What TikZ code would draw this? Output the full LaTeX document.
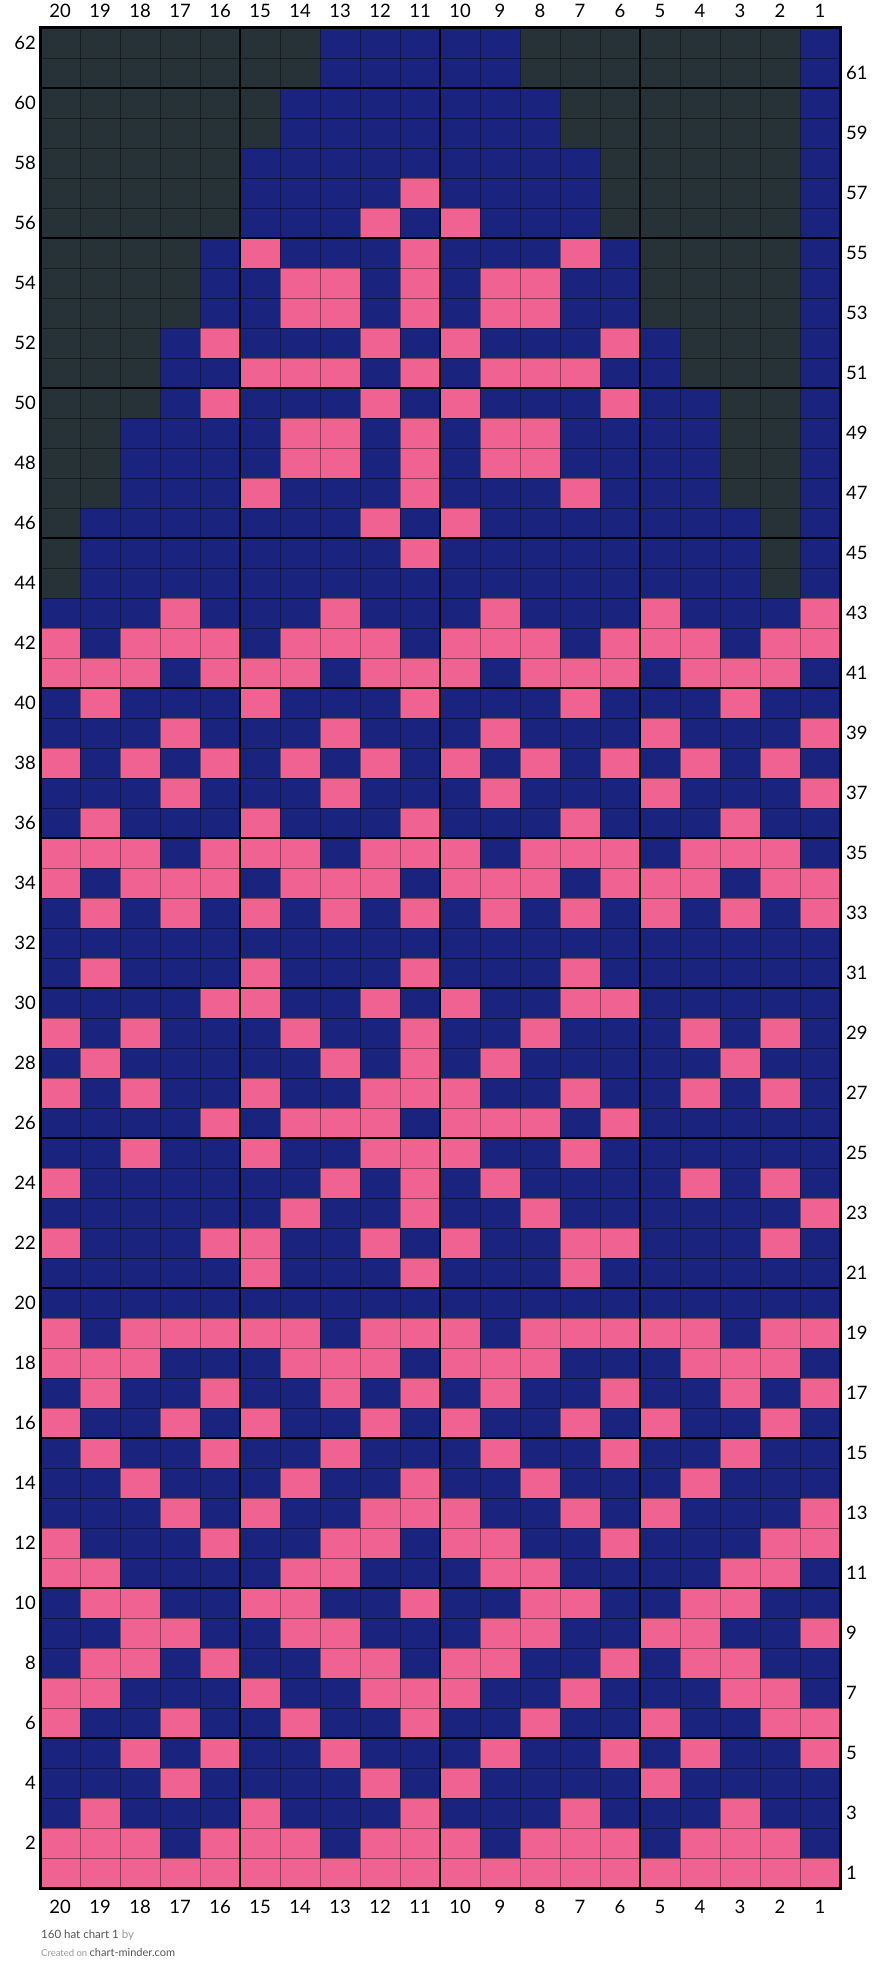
\documentclass[tikz,border=0pt]{standalone}
\usepackage{fontspec}
\setmainfont{Lato}
\setsansfont{Lato}
\usepackage{tikz}
\definecolor{hatblue}{HTML}{1A237E}
\definecolor{hatpink}{HTML}{F06292}
\definecolor{hatnone}{HTML}{263238}
\definecolor{hatgrey}{HTML}{555555}
\definecolor{hatlight}{HTML}{999999}

\begin{document}
\begin{tikzpicture}[x=1pt,y=-1pt,font=\sffamily]
  \tikzstyle{thin}=[black, opacity=0.4, line width=0.9pt]
  \tikzstyle{major}=[black, line width=2pt]
  \tikzstyle{num}=[font=\fontsize{18.5}{20}\selectfont\sffamily, inner sep=0pt, text=black]
  \tikzstyle{foot}=[inner sep=0pt, anchor=base west]
  \useasboundingbox (0,0) rectangle (880,1983);

  % main colour
  \fill[hatblue] (40,28) rectangle (840,1888);

  % no stitch: row / last col of left block / first col of right block
  \foreach \r/\lft/\rgt in {62/14/8,61/14/8,60/15/7,59/15/7,58/16/6,57/16/6,56/16/6,
    55/17/5,54/17/5,53/17/5,52/18/4,51/18/4,50/18/3,49/19/3,48/19/3,47/19/3,
    46/20/2,45/20/2,44/20/2} {
    \fill[hatnone] (40,{28+(62-\r)*30}) rectangle ({40+(21-\lft)*40},{58+(62-\r)*30});
    \fill[hatnone] ({40+(20-\rgt)*40},{28+(62-\r)*30}) rectangle (800,{58+(62-\r)*30});
  }

  % contrast stitches
  \foreach \r/\cols in {
    57/{11},
    56/{12,10},
    55/{15,11,7},
    54/{14,13,11,9,8},
    53/{14,13,11,9,8},
    52/{16,12,10,6},
    51/{15,14,13,11,9,8,7},
    50/{16,12,10,6},
    49/{14,13,11,9,8},
    48/{14,13,11,9,8},
    47/{15,11,7},
    46/{12,10},
    45/{11},
    43/{17,13,9,5,1},
    42/{20,18,17,16,14,13,12,10,9,8,6,5,4,2,1},
    41/{20,19,18,16,15,14,12,11,10,8,7,6,4,3,2},
    40/{19,15,11,7,3},
    39/{17,13,9,5,1},
    38/{20,18,16,14,12,10,8,6,4,2},
    37/{17,13,9,5,1},
    36/{19,15,11,7,3},
    35/{20,19,18,16,15,14,12,11,10,8,7,6,4,3,2},
    34/{20,18,17,16,14,13,12,10,9,8,6,5,4,2,1},
    33/{19,17,15,13,11,9,7,5,3,1},
    31/{19,15,11,7},
    30/{16,15,12,10,7,6},
    29/{20,18,14,11,8,4,2},
    28/{19,13,11,9,3},
    27/{20,18,15,12,11,10,7,4,2},
    26/{16,14,13,12,10,9,8,6},
    25/{18,15,12,11,10,7},
    24/{20,13,11,9,4,2},
    23/{14,11,8,1},
    22/{20,16,15,12,10,7,6,2},
    21/{15,11,7},
    19/{20,18,17,16,15,14,12,11,10,8,7,6,5,4,2,1},
    18/{20,19,18,14,13,12,10,9,8,4,3,2},
    17/{19,16,13,11,9,6,3,1},
    16/{20,17,15,12,10,7,5,2},
    15/{19,16,13,9,6,3},
    14/{18,14,11,8,4},
    13/{17,15,12,11,10,7,5,1},
    12/{20,16,13,12,10,9,6,2,1},
    11/{20,19,14,13,9,8,3,2},
    10/{19,18,15,14,11,8,7,4,3},
    9/{18,17,14,13,9,8,5,4,1},
    8/{19,18,16,13,12,10,9,6,4,3},
    7/{20,19,15,12,11,10,7,3,2},
    6/{20,17,14,11,8,5,2,1},
    5/{18,16,13,9,6,4,1},
    4/{17,12,10,5},
    3/{19,15,11,7,3},
    2/{20,19,18,16,15,14,12,11,10,8,7,6,4,3,2},
    1/{1,...,20}} {
    \foreach \c in \cols
      \fill[hatpink] ({40+(20-\c)*40},{28+(62-\r)*30}) rectangle +(40,30);
  }

  % grid
  \foreach \i in {1,...,19}
    \draw[thin] ({40+\i*40},28) -- ({40+\i*40},1888);
  \foreach \j in {1,...,61}
    \draw[thin] (40,{28+\j*30}) -- (840,{28+\j*30});
  \foreach \i in {5,10,15}
    \draw[major] ({40+\i*40},28) -- ({40+\i*40},1888);
  \foreach \j in {2,7,...,57}
    \draw[major] (40,{28+\j*30}) -- (840,{28+\j*30});
  \draw[black, line width=3pt] (40,28) rectangle (840,1888);

  % stitch and row numbers
  \foreach \c in {1,...,20} {
    \node[num] (top\c) at ({60+(20-\c)*40},11) {\c};
    \node[num] (bot\c) at ({60+(20-\c)*40},1907) {\c};
  }
  \foreach \r in {2,4,...,62}
    \node[num, anchor=east] (rowl\r) at (36,{43+(62-\r)*30}) {\r};
  \foreach \r in {1,3,...,61}
    \node[num, anchor=west] (rowr\r) at (846,{43+(62-\r)*30}) {\r};

  \node[foot] (title) at (41,1938)
    {\fontsize{11.5}{13}\selectfont\textcolor{hatgrey}{160 hat chart 1} \textcolor{hatlight}{by}};
  \node[foot] (credit) at (41,1956)
    {\fontsize{9.5}{11}\selectfont\textcolor{hatlight}{Created on} \fontsize{11}{13}\selectfont\textcolor{hatgrey}{chart-minder.com}};
\end{tikzpicture}
\end{document}
